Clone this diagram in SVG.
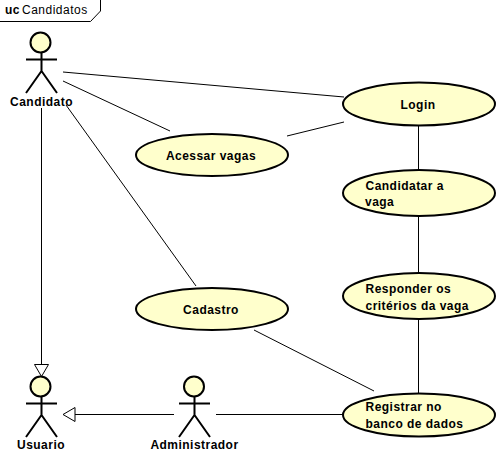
<svg xmlns="http://www.w3.org/2000/svg" width="500" height="469" viewBox="0 0 500 469">
<style>
text{font-family:"Liberation Sans",Arial,sans-serif;font-size:12px;font-weight:bold;fill:#000;letter-spacing:.47px}
.uc{fill:#ffffcc;stroke:#000;stroke-width:2}
.head{fill:#ffffcc;stroke:#000;stroke-width:2}
.limb{fill:none;stroke:#000;stroke-width:2}
.c{fill:none;stroke:#000;stroke-width:1}
.tri{fill:#fff;stroke:#000;stroke-width:1}
.m{text-anchor:middle}
</style>
<rect width="500" height="469" fill="#fff"/>
<g id="frame"><path class="c" d="M0 21.500H90.500L100.500 11V0"/><text x="5" y="14">uc</text><text x="22" y="14" style="font-weight:normal;letter-spacing:.5px">Candidatos</text></g>
<g id="connectors">
<path class="c" d="M63 72L344 97"/>
<path class="c" d="M63 81L170 131"/>
<path class="c" d="M66 105L196 286"/>
<path class="c" d="M287 136L344 122"/>
<path class="c" d="M418.500 126V170"/>
<path class="c" d="M418.500 216V273"/>
<path class="c" d="M418.500 319V393"/>
<path class="c" d="M254 330L374 391"/>
<path class="c" d="M216 414.500H343"/>
<path class="c" d="M174 414.500H75"/>
<path class="tri" d="M75 407.500V421.500L63 414.500Z"/>
<path class="c" d="M41.500 108V365"/>
<path class="tri" d="M34.500 364.500H48.500L41.500 376.500Z"/>
</g>
<g id="candidato"><circle class="head" cx="40.500" cy="42.500" r="10"/><path class="limb" d="M26 59.500H57M41.500 53V71M41.500 71L26 93M41.500 71L57 93"/><text class="m" x="41.500" y="106">Candidato</text></g>
<g id="usuario"><circle class="head" cx="40.500" cy="386.500" r="10"/><path class="limb" d="M26 403.500H57M41.500 397V415M41.500 415L26 437M41.500 415L57 437"/><text class="m" x="41" y="449">Usuario</text></g>
<g id="administrador"><circle class="head" cx="194" cy="386.500" r="10"/><path class="limb" d="M179 403.500H210M194.500 397V415M194.500 415L179 437M194.500 415L210 437"/><text class="m" x="194.500" y="449">Administrador</text></g>
<g id="login"><ellipse class="uc" cx="419" cy="104" rx="76" ry="21.500"/><text class="m" x="418" y="109">Login</text></g>
<g id="acessar"><ellipse class="uc" cx="212" cy="155" rx="76" ry="21"/><text class="m" x="211" y="160">Acessar vagas</text></g>
<g id="candidatar"><ellipse class="uc" cx="419" cy="193" rx="76" ry="23"/><text x="365.500" y="190">Candidatar a</text><text x="365" y="206">vaga</text></g>
<g id="responder"><ellipse class="uc" cx="419" cy="296" rx="76" ry="23"/><text x="365.500" y="293">Responder os</text><text x="365.500" y="310">critérios da vaga</text></g>
<g id="cadastro"><ellipse class="uc" cx="212" cy="309" rx="76" ry="21"/><text class="m" x="211" y="314">Cadastro</text></g>
<g id="registrar"><ellipse class="uc" cx="419" cy="415" rx="76" ry="21.500"/><text x="365.500" y="411">Registrar no</text><text x="365.500" y="428">banco de dados</text></g>
</svg>
